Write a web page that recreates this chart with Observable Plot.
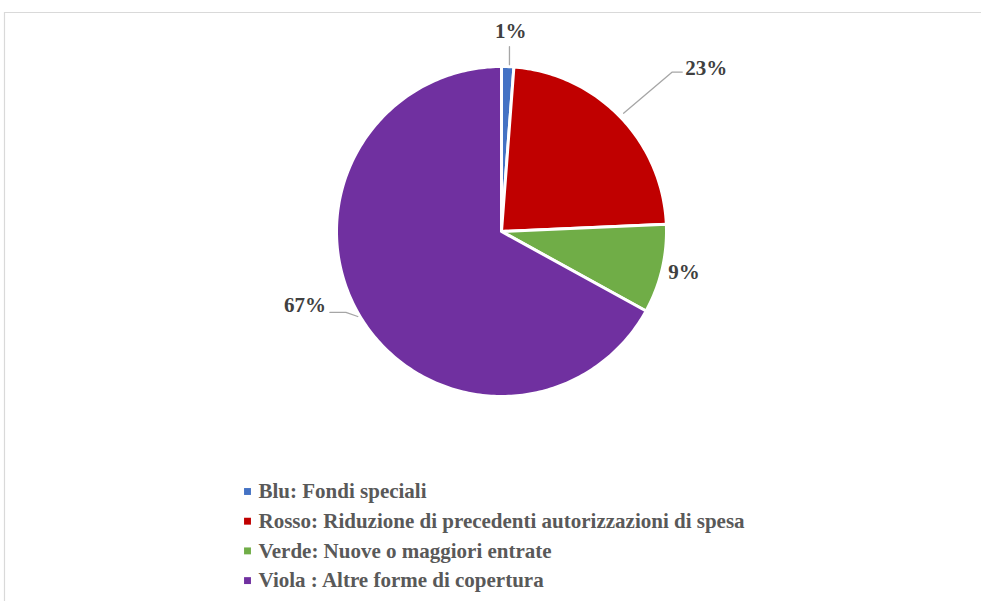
<!DOCTYPE html>
<html>
<head>
<meta charset="utf-8">
<script src="https://cdn.jsdelivr.net/npm/d3@7"></script>
<script src="https://cdn.jsdelivr.net/npm/@observablehq/plot@0.6"></script>
<style>
  html, body { margin: 0; padding: 0; background: #fff; overflow: hidden; }
  #chart svg { display: block; }
</style>
</head>
<body>
<div id="chart"></div>
<script>
// ---- Data ----
const categories = [
  "Blu: Fondi speciali",
  "Rosso: Riduzione di precedenti autorizzazioni di spesa",
  "Verde: Nuove o maggiori entrate",
  "Viola : Altre forme di copertura"
];
const shares = [1.2, 23.1, 8.7, 67.0];
const shareLabels = ["1%", "23%", "9%", "67%"];
const colors = ["#4472C4", "#C00000", "#70AD47", "#7030A0"];

// ---- Layout ----
const W = 981, H = 601;
const cx = 501, cy = 231, R = 165;
// per-slice label placement (radius, angular shift in degrees)
const labelRadius = [200, 262, 187, 210];
const labelShift = [0.5, 5.5, -0.5, 10];

const total = d3.sum(shares);
let acc = 0;
const slices = shares.map((v, i) => {
  const a0 = acc / total * 2 * Math.PI;
  acc += v;
  const a1 = acc / total * 2 * Math.PI;
  return {i, cat: categories[i], a0, a1, mid: (a0 + a1) / 2};
});
const pt = (a, r) => [cx + r * Math.sin(a), cy - r * Math.cos(a)];

// polygon vertices for slices
const polyPts = [];
for (const s of slices) {
  polyPts.push({cat: s.cat, x: cx, y: cy});
  const n = Math.max(2, Math.ceil((s.a1 - s.a0) / (Math.PI / 180)));
  for (let k = 0; k <= n; k++) {
    const a = s.a0 + (s.a1 - s.a0) * k / n;
    const [x, y] = pt(a, R);
    polyPts.push({cat: s.cat, x, y});
  }
}

// labels
const labelData = slices.map(s => {
  const a = s.mid + labelShift[s.i] * Math.PI / 180;
  const [x, y] = pt(a, labelRadius[s.i]);
  return {x, y, text: shareLabels[s.i]};
});

// leader lines
const leaders = [];
{
  const s = slices[0];
  const [x0, y0] = pt(s.mid + 0.01, R + 2);
  leaders.push({id: 0, x: x0, y: y0});
  leaders.push({id: 0, x: x0, y: labelData[0].y + 15});
  const s1 = slices[1];
  const [x1, y1] = pt(s1.mid, R + 5);
  leaders.push({id: 1, x: x1, y: y1});
  leaders.push({id: 1, x: labelData[1].x - 34, y: labelData[1].y + 4});
  leaders.push({id: 1, x: labelData[1].x - 24, y: labelData[1].y + 4});
  const s3 = slices[3];
  const [x3, y3] = pt(s3.mid, R + 2);
  leaders.push({id: 3, x: x3, y: y3});
  leaders.push({id: 3, x: labelData[3].x + 41, y: labelData[3].y + 7});
  leaders.push({id: 3, x: labelData[3].x + 25, y: labelData[3].y + 7});
}

// legend
const legendX = 247, legendY0 = 491, legendStep = 29.7;
const legendData = categories.map((c, i) => ({cat: c, y: legendY0 + i * legendStep}));

const font = "'Liberation Serif', 'Times New Roman', serif";

const chart = Plot.plot({
  width: W,
  height: H,
  margin: 0,
  x: {domain: [0, W], range: [0, W], axis: null},
  y: {domain: [0, H], range: [0, H], axis: null},
  color: {domain: categories, range: colors},
  style: {fontFamily: font, background: "#fff"},
  marks: [
    Plot.ruleY([12], {x1: 4, x2: W, stroke: "#d9d9d9", strokeWidth: 1.2}),
    Plot.ruleX([4], {y1: 12, y2: H, stroke: "#d9d9d9", strokeWidth: 1.2}),
    Plot.line(polyPts, {x: "x", y: "y", z: "cat", fill: "cat", stroke: "#fff", strokeWidth: 3, curve: "linear-closed"}),
    Plot.line(leaders, {x: "x", y: "y", z: "id", stroke: "#a6a6a6", strokeWidth: 1.3}),
    Plot.text(labelData, {x: "x", y: "y", text: "text", fill: "#404040", fontSize: 21, fontWeight: "bold", fontFamily: font}),
    Plot.dot(legendData, {x: legendX, y: "y", fill: "cat", symbol: "square", r: 3.9}),
    Plot.text(legendData, {x: legendX + 11, y: "y", text: "cat", textAnchor: "start", fill: "#595959", fontSize: 21, fontWeight: "bold", fontFamily: font})
  ]
});
document.getElementById("chart").appendChild(chart);
</script>
</body>
</html>
